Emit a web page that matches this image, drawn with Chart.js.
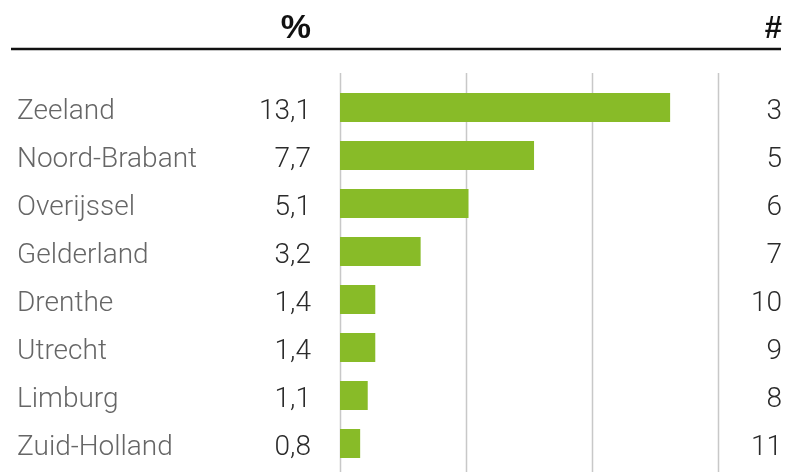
<!DOCTYPE html>
<html>
<head>
<meta charset="utf-8">
<script src="https://cdn.jsdelivr.net/npm/chart.js@4/dist/chart.umd.min.js"></script>
<style>
  html, body { margin: 0; padding: 0; background: #fff; }
  #wrap { width: 786px; height: 472px; position: relative; }
</style>
</head>
<body>
<div id="wrap"><canvas id="myChart"></canvas></div>
<script>
var provincies = ['Zeeland', 'Noord-Brabant', 'Overijssel', 'Gelderland', 'Drenthe', 'Utrecht', 'Limburg', 'Zuid-Holland'];
var percentages = [13.1, 7.7, 5.1, 3.2, 1.4, 1.4, 1.1, 0.8];
var aantallen = [3, 5, 6, 7, 10, 9, 8, 11];
var gridTicks = [0, 5, 10, 15];

var labelFont = "'Roboto', 'Liberation Sans', sans-serif";

// header, grid lines and value column
var extras = {
	id: 'extras',
	beforeDatasetsDraw: function(chart) {
		var ctx = chart.ctx;
		var x = chart.scales.x;
		ctx.save();
		ctx.strokeStyle = '#c8c8c8';
		ctx.lineWidth = 1.5;
		gridTicks.forEach(function(t) {
			var px = Math.round(x.getPixelForValue(t)) + 0.5;
			ctx.beginPath();
			ctx.moveTo(px, 73);
			ctx.lineTo(px, 472);
			ctx.stroke();
		});
		ctx.restore();
	},
	afterDraw: function(chart) {
		var ctx = chart.ctx;
		var y = chart.scales.y;
		ctx.save();
		// header
		ctx.fillStyle = '#111';
		ctx.textAlign = 'right';
		ctx.textBaseline = 'alphabetic';
		ctx.font = "bold 34px 'Liberation Sans Narrow', 'Liberation Sans', sans-serif";
		ctx.fillText('%', 311, 38);
		ctx.font = "bold 31px 'Liberation Sans Narrow', 'Liberation Sans', sans-serif";
		ctx.fillText('#', 782, 38);
		ctx.strokeStyle = '#111';
		ctx.lineWidth = 2.5;
		ctx.beginPath();
		ctx.moveTo(11, 49);
		ctx.lineTo(781, 49);
		ctx.stroke();
		// percentages
		ctx.font = "300 28px " + labelFont;
		ctx.fillStyle = '#2a2a2a';
		ctx.textBaseline = 'middle';
		percentages.forEach(function(v, i) {
			ctx.fillText(v.toFixed(1).replace('.', ','), 311, y.getPixelForValue(i) + 4);
		});
		ctx.restore();
	}
};

function fixAxis(scale, w) {
	scale.width = w;
	scale.paddingTop = 0;
	scale.paddingBottom = 0;
}

var ctx = document.getElementById("myChart").getContext('2d');

var myChart = new Chart(ctx, {
	type: 'bar',
	data: {
		labels: provincies,
		datasets: [{
			data: percentages,
			backgroundColor: '#88bb28',
			barPercentage: 0.6,
			categoryPercentage: 1
		}]
	},
	options: {
		indexAxis: 'y',
		responsive: true,
		maintainAspectRatio: false,
		animation: false,
		layout: { padding: { top: 83.5, bottom: 4.5, left: 17, right: 4 } },
		plugins: { legend: { display: false }, tooltip: { enabled: false } },
		scales: {
			x: {
				display: false,
				min: 0,
				max: 15
			},
			y: {
				position: 'left',
				grid: { display: false },
				border: { display: false },
				afterFit: function(scale) { fixAxis(scale, 323); },
				ticks: {
					crossAlign: 'far',
					padding: 0,
					labelOffset: 4,
					color: '#666',
					font: { family: labelFont, size: 28, weight: '300' }
				}
			},
			y2: {
				position: 'right',
				type: 'category',
				labels: aantallen.map(String),
				offset: true,
				grid: { display: false },
				border: { display: false },
				afterFit: function(scale) { fixAxis(scale, 64); },
				ticks: {
					crossAlign: 'far',
					padding: 0,
					labelOffset: 4,
					color: '#2a2a2a',
					font: { family: labelFont, size: 28, weight: '300' }
				}
			}
		}
	},
	plugins: [extras]
});
</script>
</body>
</html>
